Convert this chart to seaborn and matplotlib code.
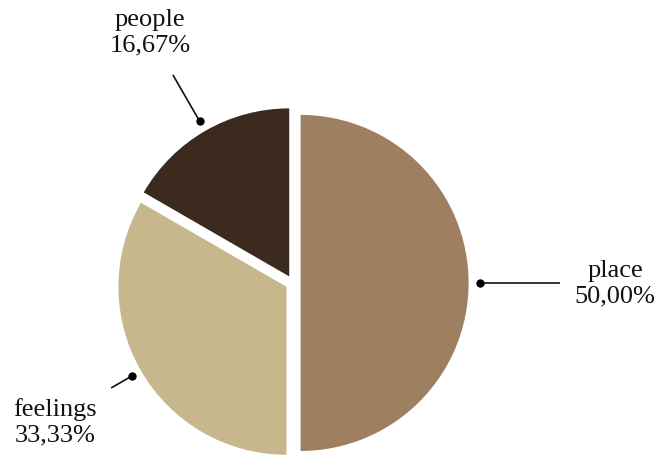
import matplotlib
matplotlib.use("Agg")
import matplotlib.pyplot as plt
import seaborn as sns
import numpy as np

# Share of answers per theme
categories = ["place", "feelings", "people"]
counts = [3, 2, 1]
colors = ["#9E7F60", "#C6B88C", "#3D2A1E"]

sns.set_theme(style="white")
plt.rcParams["font.family"] = ["Liberation Serif", "DejaVu Serif"]

fig = plt.figure(figsize=(6.63, 4.56), dpi=100)
ax = fig.add_axes([0, 0, 1, 1])

wedges, _ = ax.pie(
    counts,
    colors=colors,
    startangle=90,
    counterclock=False,
    explode=[0.045] * len(counts),
    radius=1.0,
    center=(0, 0),
    wedgeprops=dict(linewidth=0),
    frame=False,
)
ax.set_xlim(-1.744, 2.202)
ax.set_ylim(-1.024, 1.690)
ax.set_aspect("auto")
ax.axis("off")

# leader line end radius and label centre for each slice (place, feelings, people)
line_end = [1.59, 1.25, 1.43]
label_xy = [(1.917, 0.0), (-1.417, -0.821), (-0.851, 1.494)]

total = sum(counts)
for w, c, v, r_end, (lx, ly) in zip(wedges, categories, counts, line_end, label_xy):
    mid = np.deg2rad((w.theta1 + w.theta2) / 2)
    ux, uy = np.cos(mid), np.sin(mid)
    r0 = 1.11
    x0, y0 = r0 * ux, r0 * uy
    x1, y1 = r_end * ux, r_end * uy
    ax.plot([x0, x1], [y0, y1], color="#111111", lw=1.2, solid_capstyle="butt")
    ax.plot([x0], [y0], "o", color="#000000", ms=5)
    pct = f"{v / total * 100:.2f}".replace(".", ",")
    ax.text(lx, ly, f"{c}\n{pct}%", ha="center", va="center",
            fontsize=19, linespacing=1.2, color="#111111")

fig.savefig("out.png", dpi=100)
